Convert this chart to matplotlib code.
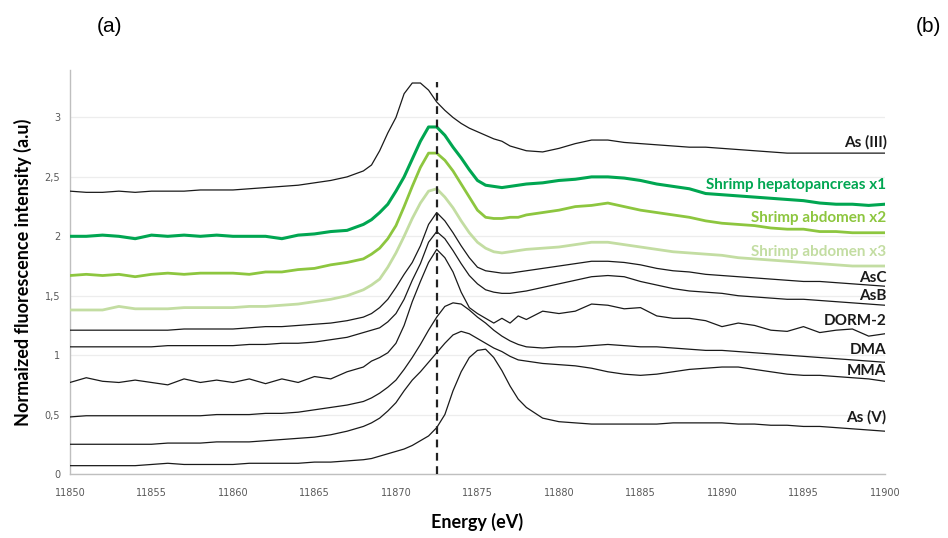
import matplotlib
matplotlib.use("Agg")
import matplotlib.pyplot as plt
from matplotlib.ticker import FuncFormatter, MultipleLocator

energy = [11850, 11851, 11852, 11853, 11854, 11855, 11856, 11857, 11858, 11859,
          11860, 11861, 11862, 11863, 11864, 11865, 11866, 11867, 11868, 11868.5,
          11869, 11869.5, 11870, 11870.5, 11871, 11871.5, 11872, 11872.5, 11873, 11873.5,
          11874, 11874.5, 11875, 11875.5, 11876, 11876.5, 11877, 11877.5, 11878, 11879,
          11880, 11881, 11882, 11883, 11884, 11885, 11886, 11887, 11888, 11889,
          11890, 11891, 11892, 11893, 11894, 11895, 11896, 11897, 11898, 11899, 11900]

as3 = [2.38, 2.37, 2.37, 2.38, 2.37, 2.38, 2.38, 2.38, 2.39, 2.39,
       2.39, 2.40, 2.41, 2.42, 2.43, 2.45, 2.47, 2.50, 2.55, 2.60,
       2.72, 2.87, 3.00, 3.20, 3.29, 3.29, 3.23, 3.13, 3.06, 3.00,
       2.95, 2.91, 2.88, 2.85, 2.82, 2.80, 2.76, 2.74, 2.72, 2.71,
       2.74, 2.78, 2.81, 2.81, 2.79, 2.78, 2.77, 2.76, 2.75, 2.75,
       2.74, 2.73, 2.72, 2.71, 2.70, 2.70, 2.70, 2.70, 2.70, 2.70, 2.70]

hepato_x1 = [2.00, 2.00, 2.01, 2.00, 1.98, 2.01, 2.00, 2.01, 2.00, 2.01,
             2.00, 2.00, 2.00, 1.98, 2.01, 2.02, 2.04, 2.05, 2.10, 2.14,
             2.20, 2.27, 2.38, 2.50, 2.65, 2.80, 2.92, 2.92, 2.85, 2.75,
             2.66, 2.56, 2.47, 2.43, 2.42, 2.41, 2.42, 2.43, 2.44, 2.45,
             2.47, 2.48, 2.50, 2.50, 2.49, 2.47, 2.44, 2.42, 2.40, 2.36,
             2.35, 2.34, 2.33, 2.32, 2.31, 2.30, 2.28, 2.27, 2.27, 2.26, 2.27]

abdomen_x2 = [1.67, 1.68, 1.67, 1.68, 1.66, 1.68, 1.69, 1.68, 1.69, 1.69,
              1.69, 1.68, 1.70, 1.70, 1.72, 1.73, 1.76, 1.78, 1.81, 1.85,
              1.90, 1.98, 2.09, 2.25, 2.42, 2.58, 2.70, 2.70, 2.64, 2.55,
              2.44, 2.33, 2.22, 2.16, 2.15, 2.15, 2.16, 2.16, 2.18, 2.20,
              2.22, 2.25, 2.26, 2.28, 2.25, 2.22, 2.20, 2.18, 2.16, 2.13,
              2.11, 2.10, 2.09, 2.07, 2.06, 2.06, 2.04, 2.04, 2.03, 2.03, 2.03]

abdomen_x3 = [1.38, 1.38, 1.38, 1.41, 1.39, 1.39, 1.39, 1.40, 1.40, 1.40,
              1.40, 1.41, 1.41, 1.42, 1.43, 1.45, 1.47, 1.50, 1.55, 1.59,
              1.64, 1.74, 1.86, 2.00, 2.15, 2.28, 2.38, 2.40, 2.33, 2.24,
              2.13, 2.03, 1.95, 1.90, 1.87, 1.86, 1.87, 1.88, 1.89, 1.90,
              1.91, 1.93, 1.95, 1.95, 1.93, 1.91, 1.89, 1.87, 1.86, 1.85,
              1.84, 1.82, 1.81, 1.80, 1.79, 1.78, 1.77, 1.76, 1.75, 1.75, 1.75]

asc = [1.21, 1.21, 1.21, 1.21, 1.21, 1.21, 1.21, 1.22, 1.22, 1.22,
       1.22, 1.23, 1.24, 1.24, 1.25, 1.26, 1.27, 1.29, 1.32, 1.35,
       1.40, 1.47, 1.57, 1.68, 1.78, 1.92, 2.10, 2.20, 2.13, 2.03,
       1.92, 1.82, 1.74, 1.71, 1.70, 1.69, 1.69, 1.70, 1.71, 1.73,
       1.75, 1.77, 1.79, 1.79, 1.78, 1.76, 1.73, 1.71, 1.70, 1.68,
       1.67, 1.66, 1.65, 1.64, 1.63, 1.62, 1.62, 1.61, 1.60, 1.59, 1.58]

asb = [1.07, 1.07, 1.07, 1.07, 1.07, 1.07, 1.08, 1.08, 1.08, 1.08,
       1.08, 1.09, 1.09, 1.10, 1.10, 1.11, 1.13, 1.15, 1.19, 1.21,
       1.23, 1.28, 1.35, 1.47, 1.63, 1.77, 1.95, 2.04, 1.98, 1.88,
       1.77, 1.67, 1.60, 1.55, 1.53, 1.52, 1.52, 1.53, 1.54, 1.57,
       1.60, 1.63, 1.66, 1.67, 1.66, 1.62, 1.59, 1.56, 1.54, 1.53,
       1.52, 1.50, 1.49, 1.48, 1.47, 1.47, 1.46, 1.45, 1.44, 1.43, 1.42]

dorm2 = [0.77, 0.81, 0.78, 0.77, 0.79, 0.77, 0.75, 0.80, 0.77, 0.79,
         0.77, 0.80, 0.76, 0.80, 0.77, 0.82, 0.80, 0.86, 0.90, 0.95,
         0.98, 1.02, 1.10, 1.25, 1.45, 1.62, 1.78, 1.89, 1.82, 1.70,
         1.53, 1.40, 1.35, 1.31, 1.27, 1.31, 1.27, 1.33, 1.30, 1.37,
         1.35, 1.37, 1.43, 1.42, 1.39, 1.40, 1.33, 1.31, 1.31, 1.29,
         1.24, 1.27, 1.25, 1.21, 1.20, 1.24, 1.19, 1.21, 1.22, 1.16, 1.18]

dma = [0.48, 0.49, 0.49, 0.49, 0.49, 0.49, 0.49, 0.49, 0.49, 0.50,
       0.50, 0.50, 0.51, 0.51, 0.52, 0.54, 0.56, 0.58, 0.61, 0.64,
       0.68, 0.73, 0.79, 0.88, 0.98, 1.09, 1.21, 1.32, 1.41, 1.44,
       1.43, 1.38, 1.32, 1.27, 1.21, 1.16, 1.12, 1.09, 1.07, 1.06,
       1.07, 1.07, 1.08, 1.09, 1.08, 1.07, 1.07, 1.06, 1.05, 1.04,
       1.04, 1.03, 1.02, 1.01, 1.00, 0.99, 0.98, 0.97, 0.96, 0.95, 0.94]

mma = [0.25, 0.25, 0.25, 0.25, 0.25, 0.25, 0.26, 0.26, 0.26, 0.27,
       0.27, 0.27, 0.28, 0.29, 0.30, 0.31, 0.33, 0.36, 0.40, 0.43,
       0.47, 0.53, 0.60, 0.70, 0.79, 0.86, 0.94, 1.02, 1.10, 1.17,
       1.20, 1.18, 1.14, 1.10, 1.06, 1.03, 0.99, 0.96, 0.95, 0.93,
       0.92, 0.91, 0.89, 0.86, 0.84, 0.83, 0.84, 0.86, 0.88, 0.89,
       0.90, 0.90, 0.88, 0.86, 0.84, 0.83, 0.83, 0.82, 0.81, 0.80, 0.78]

as5 = [0.07, 0.07, 0.07, 0.07, 0.07, 0.08, 0.09, 0.08, 0.08, 0.08,
       0.08, 0.09, 0.09, 0.09, 0.09, 0.10, 0.10, 0.11, 0.12, 0.13,
       0.15, 0.17, 0.19, 0.21, 0.24, 0.28, 0.32, 0.39, 0.50, 0.70,
       0.86, 0.98, 1.04, 1.05, 0.98, 0.87, 0.74, 0.63, 0.56, 0.47,
       0.44, 0.43, 0.42, 0.42, 0.42, 0.42, 0.42, 0.43, 0.43, 0.43,
       0.43, 0.42, 0.42, 0.41, 0.41, 0.40, 0.40, 0.39, 0.38, 0.37, 0.36]

series_names = ["As (III)", "Shrimp hepatopancreas x1", "Shrimp abdomen x2",
                "Shrimp abdomen x3", "AsC", "AsB", "DORM-2", "DMA", "MMA", "As (V)"]
series_values = [as3, hepato_x1, abdomen_x2, abdomen_x3, asc, asb, dorm2, dma, mma, as5]
label_y = [2.79, 2.43, 2.15, 1.87, 1.65, 1.50, 1.29, 1.04, 0.87, 0.48]
edge_energy = 11872.5
edge_top = 3.30

colors = ["#1a1a1a", "#00A651", "#8DC63F", "#C3DDA2", "#1a1a1a", "#1a1a1a",
          "#1a1a1a", "#1a1a1a", "#1a1a1a", "#1a1a1a"]
widths = [0.9, 2.2, 2.0, 2.0, 0.9, 0.9, 0.9, 0.9, 0.9, 0.9]

fig = plt.figure(figsize=(9.48, 5.38), dpi=100)
ax = fig.add_axes([0.0738, 0.119, 0.8597, 0.751])

for vals, c, w in zip(series_values, colors, widths):
    ax.plot(energy, vals, color=c, lw=w, solid_joinstyle="round", zorder=3)

ax.plot([edge_energy, edge_energy], [0, edge_top], color="#222222", lw=1.6,
        ls=(0, (3.5, 2.5)), zorder=4)

for name, y, c in zip(series_names, label_y, colors):
    ax.text(11900.1, y, name, ha="right", va="center", color=c,
            fontsize=11, fontweight="bold", family=["Lato", "DejaVu Sans"], zorder=5)

ax.set_xlim(11850, 11900)
ax.set_ylim(0, 3.4)
ax.xaxis.set_major_locator(MultipleLocator(5))
ax.yaxis.set_major_locator(MultipleLocator(0.5))
ax.yaxis.set_major_formatter(FuncFormatter(lambda v, p: ("%g" % v).replace(".", ",")))
ax.grid(axis="y", color="#EDEDED", lw=0.9, zorder=0)
ax.set_axisbelow(True)
for s in ["top", "right"]:
    ax.spines[s].set_visible(False)
for s in ["left", "bottom"]:
    ax.spines[s].set_color("#BFBFBF")
    ax.spines[s].set_linewidth(1.0)
ax.tick_params(length=0, labelsize=7, labelcolor="#595959", pad=7)
ax.tick_params(axis="x", pad=10)

ax.set_ylabel("Normaized fluorescence intensity (a.u)", fontsize=13, fontweight="bold",
              family=["Lato", "DejaVu Sans"], labelpad=9)
ax.set_xlabel("Energy (eV)", fontsize=13, fontweight="bold",
              family=["Lato", "DejaVu Sans"], labelpad=11)

fig.text(110 / 948, 1 - 27 / 538, "(a)", fontsize=15, ha="center", va="center",
         family=["Liberation Sans", "DejaVu Sans"])
fig.text(928 / 948, 1 - 27 / 538, "(b)", fontsize=15, ha="center", va="center",
         family=["Liberation Sans", "DejaVu Sans"])

fig.savefig("out.png", dpi=100)
